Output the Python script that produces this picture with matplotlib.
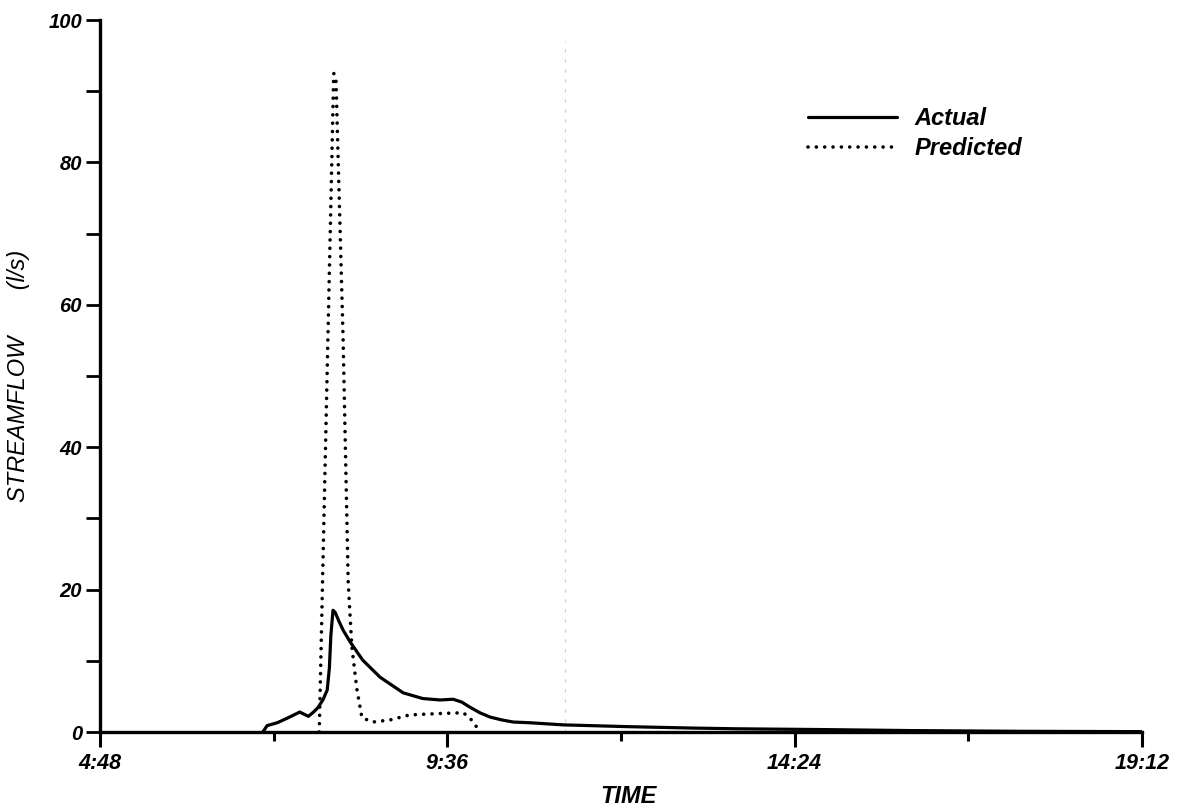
import matplotlib
matplotlib.use("Agg")
import matplotlib.pyplot as plt
from matplotlib.ticker import FixedLocator, MultipleLocator

plt.rcParams["font.family"] = ["Liberation Sans", "DejaVu Sans"]

# Observed streamflow (time of day in decimal hours, l/s)
actual_hours = [7.05, 7.11, 7.25, 7.40, 7.56, 7.64, 7.68, 7.75, 7.81, 7.88,
                7.94, 7.97, 7.99, 8.02, 8.05, 8.10, 8.16, 8.26, 8.43, 8.67,
                8.99, 9.26, 9.50, 9.68, 9.80, 9.91, 10.05, 10.19, 10.35,
                10.51, 10.74, 11.20, 12.10, 13.00, 13.60, 14.70, 16.00,
                17.50, 19.20]
actual_flow = [0.0, 0.9, 1.3, 2.0, 2.8, 2.4, 2.2, 2.8, 3.4, 4.5,
               5.9, 9.0, 13.5, 17.1, 16.8, 15.6, 14.3, 12.6, 10.1, 7.7,
               5.5, 4.7, 4.5, 4.6, 4.2, 3.5, 2.7, 2.1, 1.7,
               1.4, 1.3, 1.0, 0.75, 0.55, 0.45, 0.35, 0.2,
               0.1, 0.05]

# Model prediction
pred_hours = [7.83, 8.03, 8.06, 8.16, 8.23, 8.28, 8.35, 8.42, 8.57, 8.81,
              9.08, 9.50, 9.82, 9.91, 10.02, 10.07]
pred_flow = [0.0, 92.5, 92.0, 55.0, 21.0, 12.0, 6.0, 2.0, 1.4, 1.7,
             2.4, 2.6, 2.7, 2.0, 0.5, 0.0]

x_major = [4.8, 9.6, 14.4, 19.2]
x_major_labels = ["4:48", "9:36", "14:24", "19:12"]
x_minor = [7.2, 12.0, 16.8]

fig = plt.figure(figsize=(11.79, 8.10), dpi=100)
ax = fig.add_axes([100 / 1179, 1 - 732 / 810, 1042 / 1179, 712 / 810])

# faint vertical crease line in the sheet
ax.axvline(11.23, ymin=0.0, ymax=0.97, color="#cfcfcf", lw=0.8,
           linestyle=(0, (3, 6)), zorder=0)

ax.plot(actual_hours, actual_flow, color="black", lw=2.3,
        solid_capstyle="round", solid_joinstyle="round", label="Actual")
ax.plot(pred_hours, pred_flow, color="black", lw=2.6,
        linestyle=(0, (0.01, 2.3)), dash_capstyle="round", label="Predicted")

ax.set_xlim(4.8, 19.2)
ax.set_ylim(0, 100)

for s in ("top", "right"):
    ax.spines[s].set_visible(False)
for s in ("left", "bottom"):
    ax.spines[s].set_linewidth(2.4)
    ax.spines[s].set_color("black")

ax.xaxis.set_major_locator(FixedLocator(x_major))
ax.xaxis.set_minor_locator(FixedLocator(x_minor))
ax.set_xticklabels(x_major_labels)
ax.yaxis.set_major_locator(MultipleLocator(20))
ax.yaxis.set_minor_locator(MultipleLocator(10))

ax.tick_params(axis="x", which="major", direction="out", length=11, width=2.2,
               pad=4, labelsize=15.5)
ax.tick_params(axis="x", which="minor", direction="out", length=6.5, width=2.2)
ax.tick_params(axis="y", which="both", direction="out", length=10, width=2.0,
               pad=3, labelsize=14.5)
for lab in ax.get_xticklabels() + ax.get_yticklabels():
    lab.set_fontstyle("italic")
    lab.set_fontweight("bold")

ax.set_xlabel("TIME", fontsize=17, fontstyle="italic", fontweight="bold")
ax.xaxis.set_label_coords(0.507, -0.074)
ax.set_ylabel("STREAMFLOW       (l/s)", fontsize=17, fontstyle="italic")
ax.yaxis.set_label_coords(-0.067, 0.5)

leg = ax.legend(loc="upper left", bbox_to_anchor=(0.679, 0.878),
                frameon=False, handlelength=3.77, handletextpad=0.76,
                labelspacing=0.3, borderpad=0, borderaxespad=0,
                prop={"size": 17, "style": "italic", "weight": "bold"})

fig.savefig("out.png", dpi=100, facecolor="white")
